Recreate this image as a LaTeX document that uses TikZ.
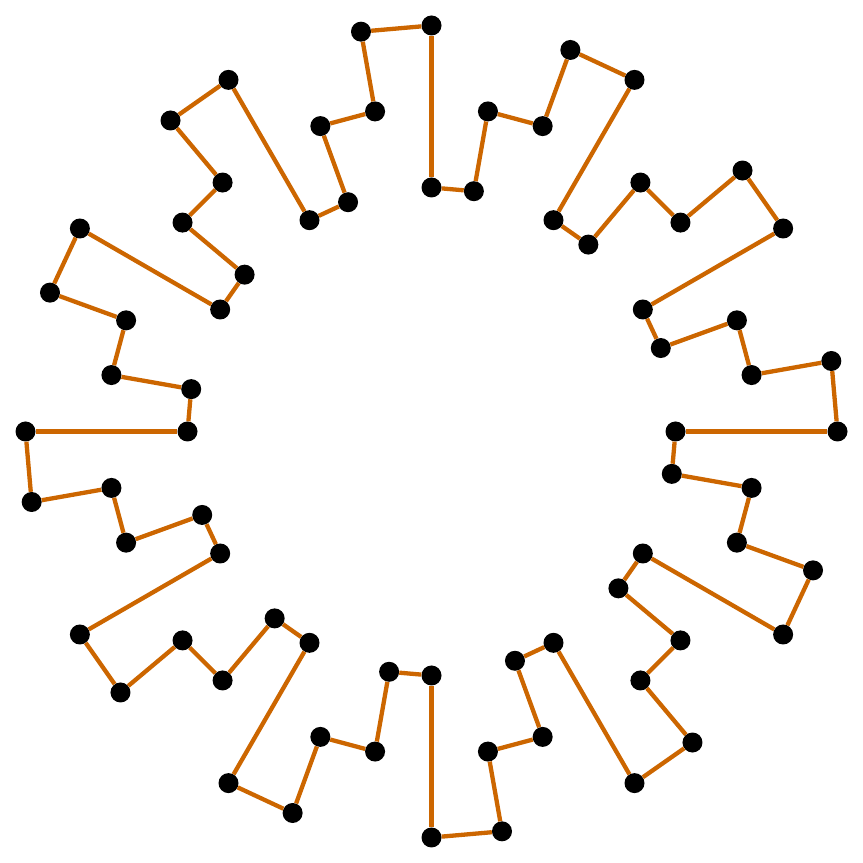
\documentclass[tikz,border=0pt]{standalone}
\usetikzlibrary{calc}
\definecolor{edgeorange}{RGB}{204,102,0}
\tikzset{
  dot/.style={circle,fill=black,inner sep=0pt,minimum size=20bp},
  edgeline/.style={draw=edgeorange,line width=4.3bp}
}
\begin{document}
\begin{tikzpicture}[x=1bp,y=1bp]
\useasboundingbox (0,0) rectangle (863,863);
\coordinate (c) at (431.5,431.5);
\foreach \k in {0,...,35}{
  \pgfmathtruncatemacro{\m}{mod(\k,3)}
  \pgfmathsetmacro{\ang}{90+10*\k}
  \ifcase\m
    \def\ra{244}\def\rb{406}
  \or
    \def\ra{406}\def\rb{325}
  \or
    \def\ra{325}\def\rb{244}
  \fi
  \pgfmathtruncatemacro{\ia}{2*\k}
  \pgfmathtruncatemacro{\ib}{2*\k+1}
  \node[dot] (p\ia) at ($(c)+(\ang:\ra)$) {};
  \node[dot] (p\ib) at ($(c)+(\ang:\rb)$) {};
}
\foreach \i in {0,...,71}{
  \pgfmathtruncatemacro{\j}{mod(\i+1,72)}
  \draw[edgeline] (p\i) -- (p\j);
}
\end{tikzpicture}
\end{document}
